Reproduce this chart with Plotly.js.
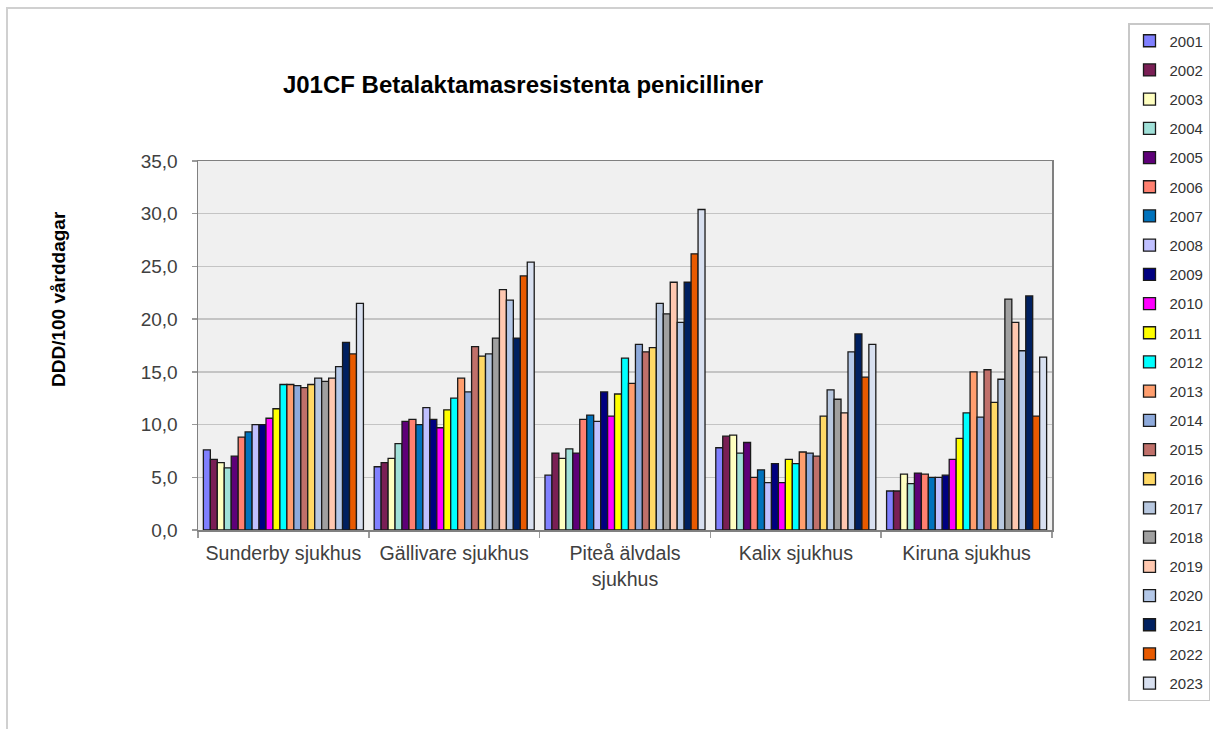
<!DOCTYPE html>
<html>
<head>
<meta charset="utf-8">
<script src="https://cdn.plot.ly/plotly-3.0.1.min.js"></script>
<style>
  html, body { margin: 0; padding: 0; background: #ffffff; }
  #chart { width: 1213px; height: 729px; }
</style>
</head>
<body>
<div id="chart"></div>
<script>
// ---- Data ----
const hospitals = ["Sunderby sjukhus", "Gällivare sjukhus", "Piteå älvdals<br>sjukhus", "Kalix sjukhus", "Kiruna sjukhus"];
const years = ["2001","2002","2003","2004","2005","2006","2007","2008","2009","2010","2011","2012",
               "2013","2014","2015","2016","2017","2018","2019","2020","2021","2022","2023"];

const sunderby  = [7.6, 6.7, 6.4, 5.9, 7.0, 8.8, 9.3, 10.0, 10.0, 10.6, 11.5, 13.8, 13.8, 13.7, 13.5, 13.8, 14.4, 14.1, 14.4, 15.5, 17.8, 16.7, 21.5];
const gallivare = [6.0, 6.4, 6.8, 8.2, 10.3, 10.5, 10.0, 11.6, 10.5, 9.7, 11.4, 12.5, 14.4, 13.1, 17.4, 16.5, 16.7, 18.2, 22.8, 21.8, 18.2, 24.1, 25.4];
const pitea     = [5.2, 7.3, 6.8, 7.7, 7.3, 10.5, 10.9, 10.3, 13.1, 10.8, 12.9, 16.3, 13.9, 17.6, 16.9, 17.3, 21.5, 20.5, 23.5, 19.7, 23.5, 26.2, 30.4];
const kalix     = [7.8, 8.9, 9.0, 7.3, 8.3, 5.0, 5.7, 4.5, 6.3, 4.5, 6.7, 6.3, 7.4, 7.3, 7.0, 10.8, 13.3, 12.4, 11.1, 16.9, 18.6, 14.5, 17.6];
const kiruna    = [3.7, 3.7, 5.3, 4.4, 5.4, 5.3, 5.0, 5.0, 5.2, 6.7, 8.7, 11.1, 15.0, 10.7, 15.2, 12.1, 14.3, 21.9, 19.7, 17.0, 22.2, 10.8, 16.4];

// ---- Styles ----
const colors = ["#8080FF","#7A1F55","#FFFFC0","#A0E0D8","#5E0078","#FF8070","#0072BC","#C0C0FF",
                "#000080","#FF00FF","#FFFF00","#00FFFF","#FF9E6E","#8EAADB","#C0706A","#FFD966",
                "#B8C8E0","#A0A0A0","#FFC8B0","#B4C8E8","#002060","#E85A00","#D8E0F0"];

const series = [sunderby, gallivare, pitea, kalix, kiruna];

const traces = years.map((yr, i) => ({
  type: "bar",
  name: yr,
  legendgroup: yr,
  x: hospitals,
  y: series.map(s => s[i]),
  marker: { color: colors[i], line: { color: "#1a1a1a", width: 1.3 } },
  hoverinfo: "x+y+name"
}));

// pixel helpers for paper coordinates
const L = 198, R = 1052, T = 161, B = 530;
const px = v => (v - L) / (R - L);
const py = v => (B - v) / (B - T);

const layout = {
  width: 1213, height: 729,
  margin: { l: L, r: 1213 - R, t: T, b: 729 - B, pad: 0 },
  paper_bgcolor: "#ffffff",
  plot_bgcolor: "#F0F0F0",
  separators: ",.",
  font: { family: "Liberation Sans, Arial, sans-serif", color: "#404040", size: 19 },
  title: {
    text: "J01CF Betalaktamasresistenta penicilliner",
    x: 523 / 1213, xref: "container", xanchor: "center",
    y: 1 - 85 / 729, yref: "container", yanchor: "middle",
    font: { family: "Liberation Sans, Arial, sans-serif", size: 24, color: "#000000", weight: "bold" }
  },
  barmode: "group",
  bargap: 0.063,
  bargroupgap: 0,
  xaxis: {
    type: "category",
    showgrid: false,
    ticks: "outside", tickson: "boundaries", ticklen: 6, tickcolor: "#9a9a9a", tickwidth: 1.5,
    ticklabelstandoff: 5,
    showline: true, linecolor: "#808080", linewidth: 1.5, mirror: true,
    tickfont: { size: 19.6, color: "#404040" },
    fixedrange: true
  },
  yaxis: {
    range: [0, 35], dtick: 5, tickformat: ".1f",
    showgrid: true, gridcolor: "#C4C4C4", gridwidth: 1.5,
    ticks: "outside", ticklen: 5, tickcolor: "#9a9a9a", tickwidth: 1.5,
    ticklabelstandoff: 10,
    showline: true, linecolor: "#808080", linewidth: 1.5, mirror: true,
    zeroline: false,
    tickfont: { size: 19, color: "#404040" },
    fixedrange: true
  },
  legend: {
    xref: "container", yref: "container",
    x: 1128 / 1213, xanchor: "left",
    y: 1 - 23 / 729, yanchor: "top",
    bgcolor: "#ffffff", bordercolor: "#C8C8C8", borderwidth: 1.5,
    font: { size: 15, color: "#333333" },
    tracegroupgap: 6.7,
    traceorder: "grouped",
    itemwidth: 30,
    maxheight: 700
  },
  annotations: [{
    text: "DDD/100 vårddagar",
    xref: "paper", yref: "paper",
    x: px(58), y: py(299),
    xanchor: "center", yanchor: "middle",
    textangle: -90, showarrow: false,
    font: { size: 19, color: "#000000", weight: "bold" }
  }],
  shapes: [{
    type: "rect", xref: "paper", yref: "paper", layer: "below",
    x0: px(7), x1: px(1220), y0: py(740), y1: py(8),
    line: { color: "#D0D0D0", width: 2 }, fillcolor: "rgba(0,0,0,0)"
  }]
};

Plotly.newPlot("chart", traces, layout, { displayModeBar: false, staticPlot: true });
</script>
</body>
</html>
